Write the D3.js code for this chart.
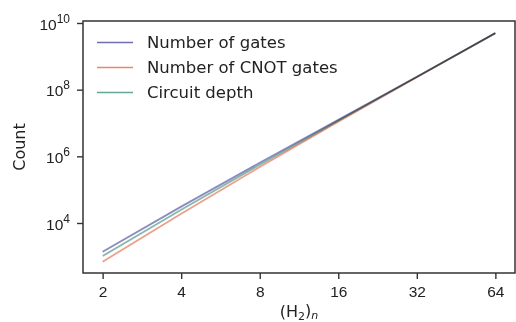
<!DOCTYPE html>
<html>
<head>
<meta charset="utf-8">
<script src="https://cdn.jsdelivr.net/npm/d3@7"></script>
<style>
  html, body { margin: 0; padding: 0; background: #fff; }
  svg { display: block; font-family: "DejaVu Sans", sans-serif; }
</style>
</head>
<body>
<svg id="chart" width="516" height="322"></svg>
<script>
// System size (number of H2 units) and resource counts
const sizes = [2, 4, 8, 16, 32, 64];
const numGates = [1380, 31000, 640000, 12500000, 245000000, 5000000000];
const numCNOT = [690, 19000, 480000, 11000000, 235000000, 4950000000];
const depth = [1020, 25000, 560000, 11800000, 240000000, 4980000000];

const seriesNames = ["Number of gates", "Number of CNOT gates", "Circuit depth"];
const seriesColors = ["#3f3f98", "#e0603f", "#348a74"];
const xTicks = [2, 4, 8, 16, 32, 64];
const yTicks = [1e4, 1e6, 1e8, 1e10];
const yTickExp = ["4", "6", "8", "10"];

const svg = d3.select("#chart");
const m = { left: 83, top: 21, right: 515, bottom: 273 };

const x = d3.scaleLog().base(2)
  .domain([Math.pow(2, 0.75), Math.pow(2, 6.25)])
  .range([m.left, m.right]);
const y = d3.scaleLog()
  .domain([Math.pow(10, 2.5), Math.pow(10, 10.06)])
  .range([m.bottom, m.top]);

const series = [numGates, numCNOT, depth].map((vals, i) => ({
  name: seriesNames[i],
  color: seriesColors[i],
  values: sizes.map((s, j) => ({ s, v: vals[j] }))
}));

const line = d3.line().x(d => x(d.s)).y(d => y(d.v));

// Overlapping lines blend into grey where the series coincide
const plot = svg.append("g").style("isolation", "isolate");
series.forEach(sr => {
  plot.append("path")
    .datum(sr.values)
    .attr("fill", "none")
    .attr("stroke", sr.color)
    .attr("stroke-width", 1.8)
    .attr("stroke-opacity", 0.6)
    .style("mix-blend-mode", "multiply")
    .attr("d", line);
});

// Axes
const tickColor = "#333";
const xAxis = svg.append("g")
  .attr("transform", `translate(0,${m.bottom})`)
  .call(d3.axisBottom(x).tickValues(xTicks).tickFormat(d3.format("d")).tickSize(6).tickPadding(7));
const yAxis = svg.append("g")
  .attr("transform", `translate(${m.left},0)`)
  .call(d3.axisLeft(y).tickValues(yTicks).tickFormat("").tickSize(6));

[xAxis, yAxis].forEach(a => {
  a.select(".domain").remove();
  a.selectAll(".tick line").attr("stroke", tickColor).attr("stroke-width", 1.4);
});
xAxis.selectAll(".tick text").attr("fill", "#222").style("font-size", "15.5px");

// Power-of-ten labels on the y axis
yAxis.selectAll(".tick").each(function (d, i) {
  const t = d3.select(this).append("text")
    .attr("x", -13).attr("dy", "0.4em")
    .attr("fill", "#222")
    .attr("text-anchor", "end")
    .style("font-size", "15.5px");
  t.append("tspan").text("10");
  t.append("tspan").attr("dy", "-0.6em").style("font-size", "12px").text(yTickExp[i]);
});

// Frame
svg.append("rect")
  .attr("x", m.left).attr("y", m.top)
  .attr("width", m.right - m.left).attr("height", m.bottom - m.top)
  .attr("fill", "none").attr("stroke", "#333").attr("stroke-width", 1.5);

// Axis titles
svg.append("text")
  .attr("transform", `translate(25,${(m.top + m.bottom) / 2}) rotate(-90)`)
  .attr("text-anchor", "middle")
  .attr("fill", "#222")
  .style("font-size", "16px")
  .text("Count");

const xl = svg.append("text")
  .attr("x", (m.left + m.right) / 2).attr("y", 317)
  .attr("text-anchor", "middle")
  .attr("fill", "#222")
  .style("font-size", "16px");
xl.append("tspan").text("(H");
xl.append("tspan").attr("dy", "0.3em").style("font-size", "11px").text("2");
xl.append("tspan").attr("dy", "-0.3em").text(")");
xl.append("tspan").attr("dy", "0.3em").style("font-size", "11px").style("font-style", "italic").text("n");

// Legend
const legend = svg.append("g");
series.forEach((sr, i) => {
  const ly = 42.5 + i * 25;
  legend.append("line")
    .attr("x1", 97).attr("x2", 133).attr("y1", ly).attr("y2", ly)
    .attr("stroke", sr.color).attr("stroke-width", 1.6).attr("stroke-opacity", 0.75);
  legend.append("text")
    .attr("x", 147).attr("y", ly).attr("dy", "0.35em")
    .attr("fill", "#222")
    .style("font-size", "16.5px")
    .text(sr.name);
});
</script>
</body>
</html>
